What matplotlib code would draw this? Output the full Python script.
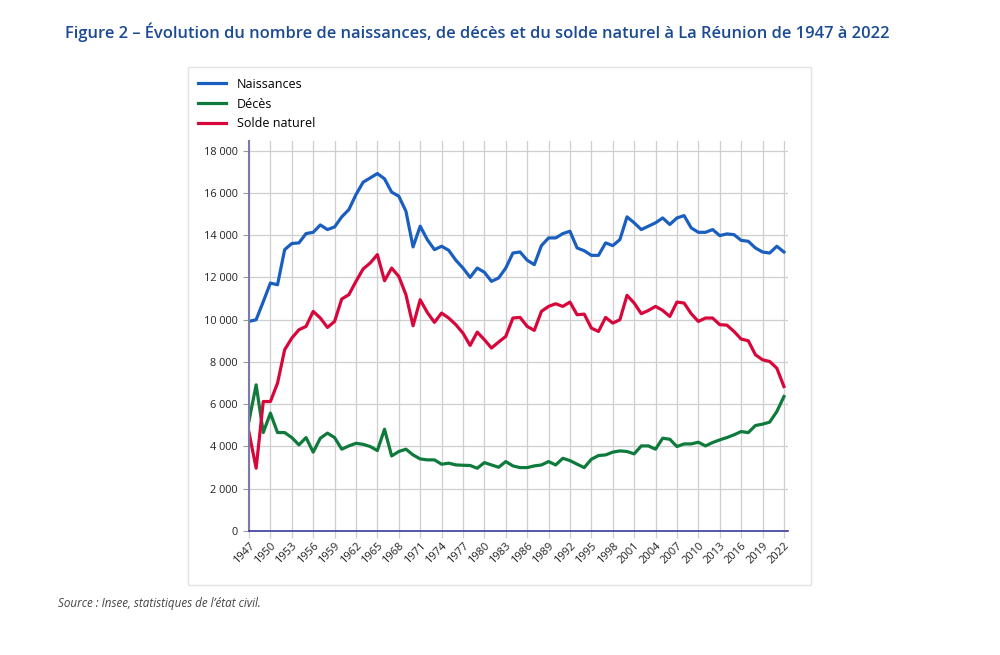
import matplotlib
matplotlib.use("Agg")
import matplotlib.pyplot as plt
from matplotlib.patches import Rectangle

years = list(range(1947, 2023))

naissances = [9915, 9995, 10850, 11730, 11650, 13310, 13600, 13630, 14070, 14130,
              14480, 14260, 14385, 14860, 15205, 15916, 16500, 16705, 16910, 16660,
              16030, 15840, 15130, 13440, 14420, 13785, 13310, 13470, 13280, 12810,
              12440, 12000, 12440, 12240, 11810, 11970, 12440, 13150, 13200, 12810,
              12600, 13500, 13865, 13865, 14070, 14180, 13390, 13260, 13040, 13040,
              13630, 13500, 13785, 14860, 14580, 14260, 14420, 14580, 14810, 14500,
              14810, 14920, 14340, 14130, 14130, 14260, 13975, 14055, 14020, 13750,
              13705, 13390, 13200, 13150, 13470, 13200]

deces = [5210, 6915, 4657, 5575, 4657, 4657, 4420, 4075, 4420, 3730,
         4390, 4630, 4420, 3870, 4025, 4150, 4100, 3995, 3805, 4815,
         3550, 3760, 3870, 3600, 3410, 3365, 3365, 3160, 3210, 3125,
         3110, 3100, 2970, 3235, 3125, 3015, 3285, 3080, 3000, 3000,
         3080, 3125, 3285, 3125, 3440, 3330, 3160, 3000, 3395, 3570,
         3600, 3730, 3790, 3760, 3650, 4025, 4025, 3870, 4390, 4340,
         3995, 4120, 4120, 4200, 4025, 4185, 4310, 4420, 4550, 4705,
         4655, 4990, 5055, 5150, 5650, 6360]

solde = [4657, 2970, 6125, 6125, 6995, 8575, 9125, 9520, 9680, 10390,
         10075, 9630, 9915, 10975, 11180, 11810, 12395, 12680, 13075, 11840,
         12440, 12045, 11180, 9710, 10940, 10340, 9870, 10310, 10075, 9760,
         9360, 8780, 9410, 9050, 8655, 8940, 9205, 10075, 10105, 9680,
         9490, 10390, 10625, 10750, 10625, 10830, 10230, 10260, 9600, 9440,
         10105, 9835, 9995, 11150, 10785, 10280, 10435, 10625, 10435, 10150,
         10830, 10785, 10280, 9915, 10075, 10075, 9760, 9740, 9440, 9080,
         9000, 8340, 8100, 8020, 7705, 6835]

series_labels = ["Naissances", "Décès", "Solde naturel"]
series_colors = ["#1a5fbf", "#0e7a3b", "#d8073b"]
x_ticks = list(range(1947, 2023, 3))
y_ticks = list(range(0, 18001, 2000))

def fmt(v):
    return f"{v:,}".replace(",", " ")

plt.rcParams['font.family'] = ['Open Sans', 'DejaVu Sans']

fig = plt.figure(figsize=(10, 6.55), dpi=100)
fig.patch.set_facecolor("white")

# chart frame
fig.patches.append(Rectangle((0.188, 1 - 585/655), 0.623, (585-67)/655,
                             transform=fig.transFigure, fill=False,
                             edgecolor="#e3e3e3", linewidth=1.0, zorder=0))

ax = fig.add_axes([0.249, 1 - 531/655, 0.5385, (531-141)/655])
for vals, lab, col in zip([naissances, deces, solde], series_labels, series_colors):
    ax.plot(years, vals, color=col, linewidth=2.3, label=lab, solid_joinstyle='round', zorder=3)

ax.set_xlim(1947, 2022.5)
ax.set_ylim(0, 18450)
ax.set_xticks(x_ticks)
ax.set_xticklabels([str(t) for t in x_ticks], rotation=45, ha='right',
                   rotation_mode='anchor', fontsize=8, color="#222222")
ax.set_yticks(y_ticks)
ax.set_yticklabels([fmt(t) for t in y_ticks], fontsize=7.8, color="#222222")
ax.grid(True, color="#cfcfcf", linewidth=0.9, zorder=0)
ax.tick_params(axis='x', length=5, color="#cfcfcf", width=0.9, pad=2)
ax.tick_params(axis='y', length=4, color="#9a9a9a", width=0.8, pad=4)
for s in ['top', 'right']:
    ax.spines[s].set_visible(False)
ax.spines['left'].set_color("#7b7aa8")
ax.spines['left'].set_linewidth(1.5)
ax.spines['bottom'].set_color("#3b3b9a")
ax.spines['bottom'].set_linewidth(1.2)
ax.spines['left'].set_zorder(4)
ax.spines['bottom'].set_zorder(4)

fig.legend(loc='upper left', bbox_to_anchor=(0.193, 0.889), frameon=False,
           fontsize=9, handlelength=2.2, handletextpad=0.9, labelspacing=0.55,
           borderaxespad=0)

fig.text(0.065, 1 - 32/655, "Figure 2 – Évolution du nombre de naissances, de décès et du solde naturel à La Réunion de 1947 à 2022",
         fontsize=11.9, color="#1b4a94", weight='semibold', va='center', ha='left')
fig.text(0.058, 1 - 603/655, "Source : Insee, statistiques de l’état civil.",
         fontsize=8.4, color="#444444", style='italic', va='center', ha='left')

fig.savefig("out.png", dpi=100, facecolor="white")
